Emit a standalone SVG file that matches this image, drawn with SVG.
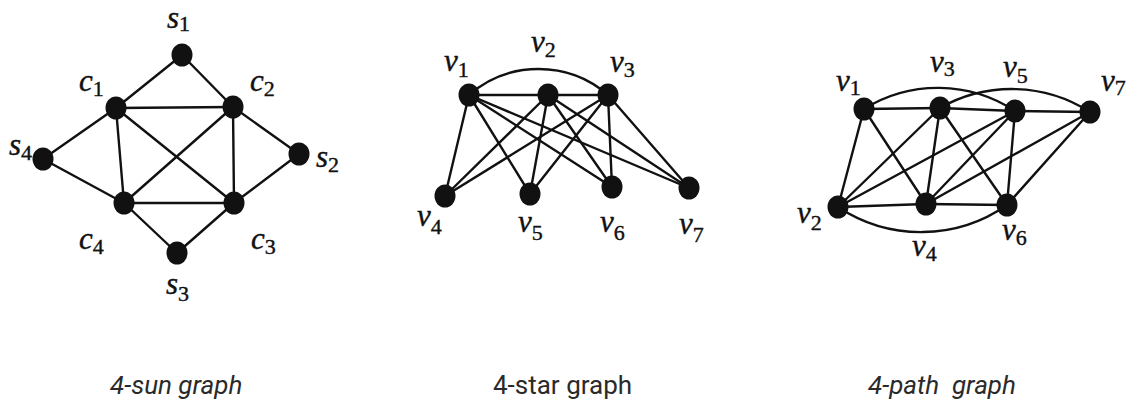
<svg xmlns="http://www.w3.org/2000/svg" width="1130" height="403" viewBox="0 0 1130 403">
<style>
.e{stroke:#111;stroke-width:2.4;fill:none;stroke-linecap:round}
.n{fill:#111}
.m{font-family:'Liberation Serif',serif;font-style:italic;font-size:31px;fill:#111;stroke:#111;stroke-width:0.4}
.sub{font-family:'Liberation Serif',serif;font-style:normal;font-size:22px}
.cap{font-family:Roboto,'Liberation Sans',sans-serif;font-size:26px;fill:#2a2a2a;white-space:pre}
</style>
<rect width="1130" height="403" fill="#fff"/>
<g id="connectors">
<line class="e" x1="182" y1="55" x2="116" y2="108"/>
<line class="e" x1="182" y1="55" x2="233" y2="107"/>
<line class="e" x1="116" y1="108" x2="233" y2="107"/>
<line class="e" x1="116" y1="108" x2="124" y2="203"/>
<line class="e" x1="116" y1="108" x2="234" y2="203"/>
<line class="e" x1="233" y1="107" x2="124" y2="203"/>
<line class="e" x1="233" y1="107" x2="234" y2="203"/>
<line class="e" x1="124" y1="203" x2="234" y2="203"/>
<line class="e" x1="43" y1="159" x2="116" y2="108"/>
<line class="e" x1="43" y1="159" x2="124" y2="203"/>
<line class="e" x1="299" y1="154" x2="233" y2="107"/>
<line class="e" x1="299" y1="154" x2="234" y2="203"/>
<line class="e" x1="177" y1="253" x2="124" y2="203"/>
<line class="e" x1="177" y1="253" x2="234" y2="203"/>
<path class="e" d="M469,95 A106,106 0 0 1 608,95"/>
<line class="e" x1="469" y1="95" x2="548" y2="95"/>
<line class="e" x1="548" y1="95" x2="608" y2="95"/>
<line class="e" x1="469" y1="95" x2="445" y2="196"/>
<line class="e" x1="469" y1="95" x2="530" y2="194"/>
<line class="e" x1="469" y1="95" x2="612" y2="187"/>
<line class="e" x1="469" y1="95" x2="689" y2="188"/>
<line class="e" x1="548" y1="95" x2="445" y2="196"/>
<line class="e" x1="548" y1="95" x2="530" y2="194"/>
<line class="e" x1="548" y1="95" x2="612" y2="187"/>
<line class="e" x1="548" y1="95" x2="689" y2="188"/>
<line class="e" x1="608" y1="95" x2="445" y2="196"/>
<line class="e" x1="608" y1="95" x2="530" y2="194"/>
<line class="e" x1="608" y1="95" x2="612" y2="187"/>
<line class="e" x1="608" y1="95" x2="689" y2="188"/>
<path class="e" d="M864,109 A140,140 0 0 1 1015,111"/>
<path class="e" d="M940,108 A145,145 0 0 1 1090,112"/>
<path class="e" d="M838,207 A150,150 0 0 0 1007,205"/>
<line class="e" x1="864" y1="109" x2="940" y2="108"/>
<line class="e" x1="940" y1="108" x2="1015" y2="111"/>
<line class="e" x1="1015" y1="111" x2="1090" y2="112"/>
<line class="e" x1="838" y1="207" x2="926" y2="204"/>
<line class="e" x1="926" y1="204" x2="1007" y2="205"/>
<line class="e" x1="864" y1="109" x2="838" y2="207"/>
<line class="e" x1="864" y1="109" x2="926" y2="204"/>
<line class="e" x1="838" y1="207" x2="940" y2="108"/>
<line class="e" x1="838" y1="207" x2="1015" y2="111"/>
<line class="e" x1="940" y1="108" x2="926" y2="204"/>
<line class="e" x1="940" y1="108" x2="1007" y2="205"/>
<line class="e" x1="926" y1="204" x2="1015" y2="111"/>
<line class="e" x1="926" y1="204" x2="1090" y2="112"/>
<line class="e" x1="1015" y1="111" x2="1007" y2="205"/>
<line class="e" x1="1007" y1="205" x2="1090" y2="112"/>
</g>
<g id="s1"><ellipse class="n" cx="182" cy="55" rx="10.5" ry="11.5"/><text class="m" x="167" y="28">s<tspan class="sub" dy="3">1</tspan></text></g>
<g id="c1"><ellipse class="n" cx="116" cy="108" rx="10.5" ry="11.5"/><text class="m" x="79" y="91">c<tspan class="sub" dy="5">1</tspan></text></g>
<g id="c2"><ellipse class="n" cx="233" cy="107" rx="10.5" ry="11.5"/><text class="m" x="250" y="91">c<tspan class="sub" dy="5">2</tspan></text></g>
<g id="s4"><ellipse class="n" cx="43" cy="159" rx="10.5" ry="11.5"/><text class="m" x="9" y="155">s<tspan class="sub" dy="5">4</tspan></text></g>
<g id="s2"><ellipse class="n" cx="299" cy="154" rx="10.5" ry="11.5"/><text class="m" x="316" y="167">s<tspan class="sub" dy="5">2</tspan></text></g>
<g id="c4"><ellipse class="n" cx="124" cy="203" rx="10.5" ry="11.5"/><text class="m" x="79" y="249">c<tspan class="sub" dy="5">4</tspan></text></g>
<g id="c3"><ellipse class="n" cx="234" cy="203" rx="10.5" ry="11.5"/><text class="m" x="251" y="249">c<tspan class="sub" dy="5">3</tspan></text></g>
<g id="s3"><ellipse class="n" cx="177" cy="253" rx="10.5" ry="11.5"/><text class="m" x="166" y="294">s<tspan class="sub" dy="7">3</tspan></text></g>
<g id="star-v1"><ellipse class="n" cx="469" cy="95" rx="10.5" ry="11.5"/><text class="m" x="444" y="71">v<tspan class="sub" dy="6">1</tspan></text></g>
<g id="star-v2"><ellipse class="n" cx="548" cy="95" rx="10.5" ry="11.5"/><text class="m" x="531" y="52">v<tspan class="sub" dy="5">2</tspan></text></g>
<g id="star-v3"><ellipse class="n" cx="608" cy="95" rx="10.5" ry="11.5"/><text class="m" x="610" y="72">v<tspan class="sub" dy="5">3</tspan></text></g>
<g id="star-v4"><ellipse class="n" cx="445" cy="196" rx="10.5" ry="11.5"/><text class="m" x="417" y="226">v<tspan class="sub" dy="8">4</tspan></text></g>
<g id="star-v5"><ellipse class="n" cx="530" cy="194" rx="10.5" ry="11.5"/><text class="m" x="518" y="232">v<tspan class="sub" dy="8">5</tspan></text></g>
<g id="star-v6"><ellipse class="n" cx="612" cy="187" rx="10.5" ry="11.5"/><text class="m" x="600" y="232">v<tspan class="sub" dy="8">6</tspan></text></g>
<g id="star-v7"><ellipse class="n" cx="689" cy="188" rx="10.5" ry="11.5"/><text class="m" x="679" y="234">v<tspan class="sub" dy="8">7</tspan></text></g>
<g id="path-v1"><ellipse class="n" cx="864" cy="109" rx="10.5" ry="11.5"/><text class="m" x="836" y="91">v<tspan class="sub" dy="4">1</tspan></text></g>
<g id="path-v3"><ellipse class="n" cx="940" cy="108" rx="10.5" ry="11.5"/><text class="m" x="930" y="72">v<tspan class="sub" dy="4">3</tspan></text></g>
<g id="path-v5"><ellipse class="n" cx="1015" cy="111" rx="10.5" ry="11.5"/><text class="m" x="1003" y="77">v<tspan class="sub" dy="6">5</tspan></text></g>
<g id="path-v7"><ellipse class="n" cx="1090" cy="112" rx="10.5" ry="11.5"/><text class="m" x="1101" y="91">v<tspan class="sub" dy="4">7</tspan></text></g>
<g id="path-v2"><ellipse class="n" cx="838" cy="207" rx="10.5" ry="11.5"/><text class="m" x="797" y="223">v<tspan class="sub" dy="7">2</tspan></text></g>
<g id="path-v4"><ellipse class="n" cx="926" cy="204" rx="10.5" ry="11.5"/><text class="m" x="912" y="256">v<tspan class="sub" dy="5">4</tspan></text></g>
<g id="path-v6"><ellipse class="n" cx="1007" cy="205" rx="10.5" ry="11.5"/><text class="m" x="1002" y="240">v<tspan class="sub" dy="5">6</tspan></text></g>
<text class="cap" x="110" y="394" font-style="italic">4-sun graph</text>
<text class="cap" x="493" y="394">4-star graph</text>
<text class="cap" x="868" y="394" font-style="italic">4-path  graph</text>
</svg>
